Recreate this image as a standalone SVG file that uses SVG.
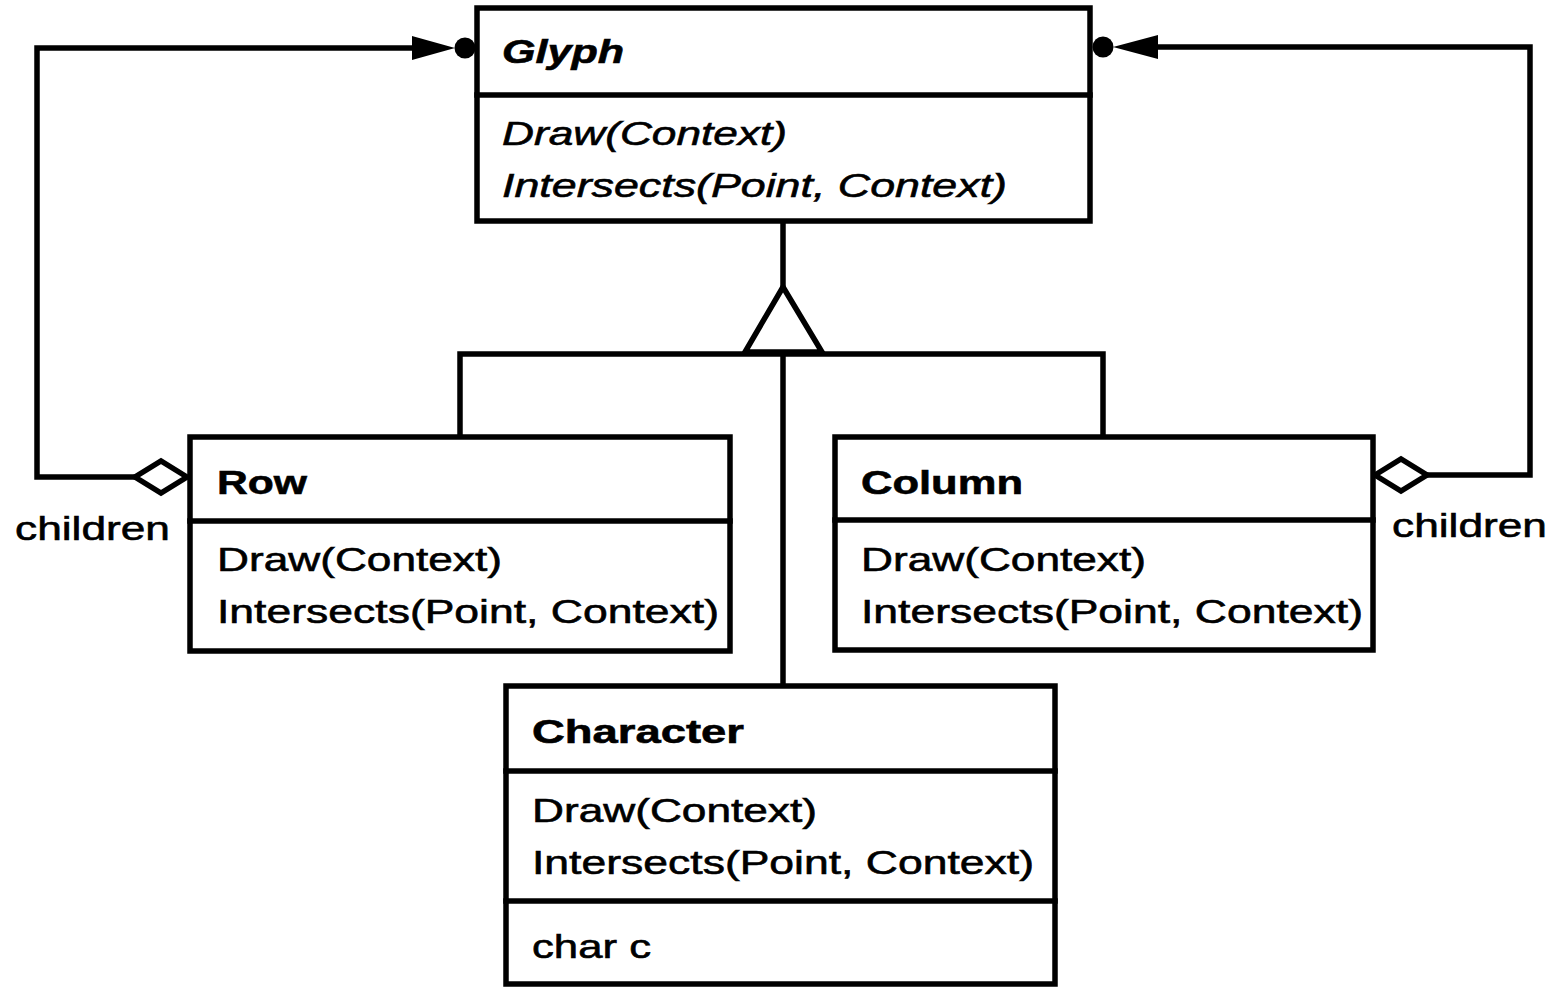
<svg xmlns="http://www.w3.org/2000/svg" width="1566" height="987" viewBox="0 0 1566 987">
<style>
.box{fill:#fff;stroke:#000;stroke-width:5.5}
.ln{fill:none;stroke:#000;stroke-width:5.5;stroke-linejoin:miter;stroke-linecap:square}
.t{font-family:"Liberation Sans",Arial,Helvetica,sans-serif;font-size:34px;fill:#000;stroke:#000;stroke-width:0.6}
.b{font-weight:bold}
.i{font-style:italic}
</style>
<rect width="1566" height="987" fill="#fff"/>
<g id="connectors">
  <line class="ln" x1="783" y1="222" x2="783" y2="287"/>
  <polyline class="ln" points="460,437 460,354 1103,354 1103,437"/>
  <line class="ln" x1="783" y1="354" x2="783" y2="686"/>
  <polygon points="783,287 745,352 822,352" fill="#fff" stroke="#000" stroke-width="5.5" stroke-linejoin="miter"/>
  <polyline class="ln" points="135,477 37,477 37,48 420,48"/>
  <polygon points="187,477 161,461 135,477 161,493" fill="#fff" stroke="#000" stroke-width="5.5"/>
  <polygon points="455,48 412,36 412,60" fill="#000"/>
  <circle cx="465" cy="48" r="10.5" fill="#000"/>
  <polyline class="ln" points="1427,475 1530,475 1530,47 1150,47"/>
  <polygon points="1375,475 1401,459 1427,475 1401,491" fill="#fff" stroke="#000" stroke-width="5.5"/>
  <polygon points="1113,47 1158,35 1158,59" fill="#000"/>
  <circle cx="1103" cy="47" r="10.5" fill="#000"/>
  <text class="t" x="15" y="540" textLength="155" lengthAdjust="spacingAndGlyphs">children</text>
  <text class="t" x="1392" y="537" textLength="155" lengthAdjust="spacingAndGlyphs">children</text>
</g>
<g id="glyph">
  <rect class="box" x="477" y="8" width="613" height="213"/>
  <line class="ln" x1="477" y1="95" x2="1090" y2="95"/>
  <text class="t b i" x="502" y="63" textLength="122" lengthAdjust="spacingAndGlyphs">Glyph</text>
  <text class="t i" x="502" y="145" textLength="285" lengthAdjust="spacingAndGlyphs">Draw(Context)</text>
  <text class="t i" x="502" y="197" textLength="505" lengthAdjust="spacingAndGlyphs">Intersects(Point, Context)</text>
</g>
<g id="row">
  <rect class="box" x="190" y="437" width="540" height="214"/>
  <line class="ln" x1="190" y1="521" x2="730" y2="521"/>
  <text class="t b" x="217" y="494" textLength="90" lengthAdjust="spacingAndGlyphs">Row</text>
  <text class="t" x="217" y="571" textLength="285" lengthAdjust="spacingAndGlyphs">Draw(Context)</text>
  <text class="t" x="217" y="623" textLength="502" lengthAdjust="spacingAndGlyphs">Intersects(Point, Context)</text>
</g>
<g id="column">
  <rect class="box" x="835" y="437" width="538" height="213"/>
  <line class="ln" x1="835" y1="520" x2="1373" y2="520"/>
  <text class="t b" x="861" y="494" textLength="162" lengthAdjust="spacingAndGlyphs">Column</text>
  <text class="t" x="861" y="571" textLength="285" lengthAdjust="spacingAndGlyphs">Draw(Context)</text>
  <text class="t" x="861" y="623" textLength="502" lengthAdjust="spacingAndGlyphs">Intersects(Point, Context)</text>
</g>
<g id="character">
  <rect class="box" x="506" y="686" width="549" height="298"/>
  <line class="ln" x1="506" y1="771" x2="1055" y2="771"/>
  <line class="ln" x1="506" y1="901" x2="1055" y2="901"/>
  <text class="t b" x="532" y="743" textLength="212" lengthAdjust="spacingAndGlyphs">Character</text>
  <text class="t" x="532" y="822" textLength="285" lengthAdjust="spacingAndGlyphs">Draw(Context)</text>
  <text class="t" x="532" y="874" textLength="502" lengthAdjust="spacingAndGlyphs">Intersects(Point, Context)</text>
  <text class="t" x="532" y="958" textLength="119" lengthAdjust="spacingAndGlyphs">char c</text>
</g>
</svg>
